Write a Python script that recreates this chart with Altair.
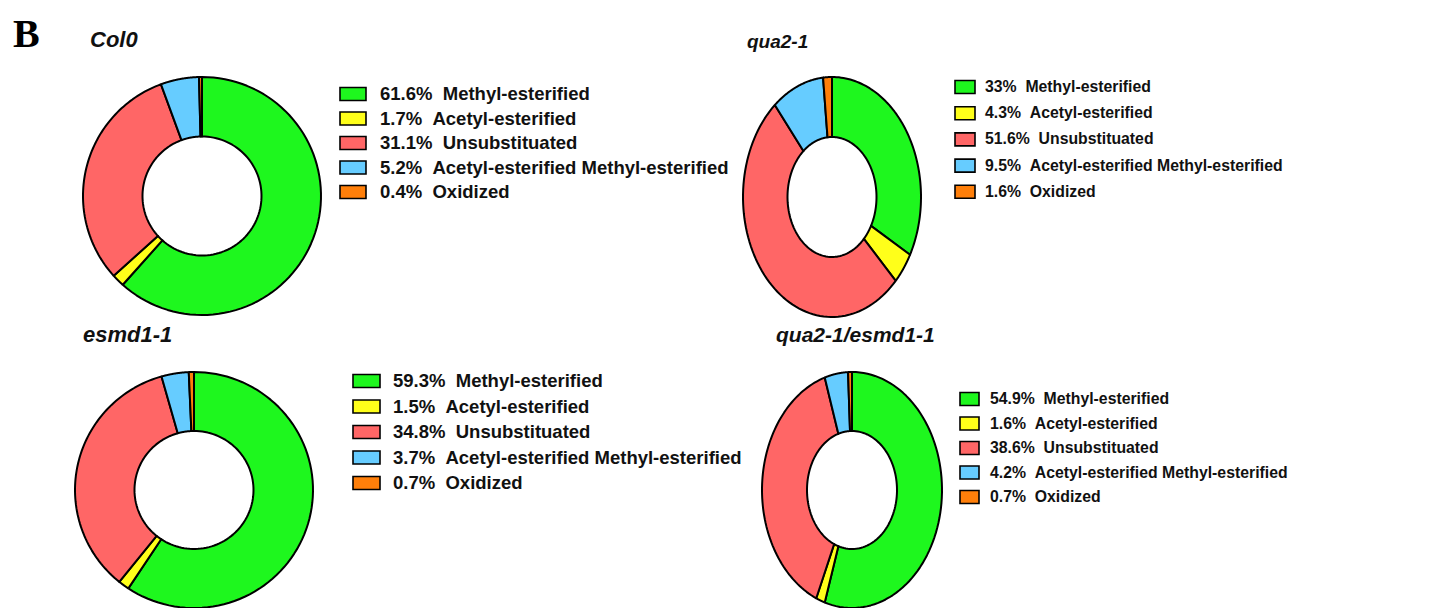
import altair as alt
import pandas as pd

# ---------------- data ----------------
panels = ["Col0", "qua2-1", "esmd1-1", "qua2-1/esmd1-1"]
categories = ["Methyl-esterified", "Acetyl-esterified", "Unsubstituated",
              "Acetyl-esterified Methyl-esterified", "Oxidized"]
col0_vals = [61.6, 1.7, 31.1, 5.2, 0.4]
qua2_vals = [33, 4.3, 51.6, 9.5, 1.6]
esmd1_vals = [59.3, 1.5, 34.8, 3.7, 0.7]
double_vals = [54.9, 1.6, 38.6, 4.2, 0.7]
panel_values = [col0_vals, qua2_vals, esmd1_vals, double_vals]

colors = ["#1EF71E", "#FFFF1A", "#FF6666", "#66CCFF", "#FF7F0A"]

# ---------------- layout (page pixel coordinates) ----------------
layout = {
    "Col0":           dict(cx=202, cy=196, rx=119, ry=119, sx0=340, sx1=366, ly0=94,  ldy=24.5, tx=380, lfs=18.5, ttx=90,  tty=47,  tfs=22),
    "qua2-1":         dict(cx=832, cy=197, rx=89,  ry=120, sx0=955, sx1=975, ly0=87,  ldy=26.2, tx=985, lfs=15.8, ttx=747, tty=48,  tfs=19),
    "esmd1-1":        dict(cx=194, cy=490, rx=119, ry=118, sx0=353, sx1=380, ly0=381, ldy=25.5, tx=393, lfs=18.5, ttx=83,  tty=342, tfs=22),
    "qua2-1/esmd1-1": dict(cx=852, cy=490, rx=90,  ry=118, sx0=960, sx1=979, ly0=399, ldy=24.5, tx=990, lfs=15.8, ttx=776, tty=342, tfs=21),
}
N = 80          # points per arc edge
INNER = 0.5     # inner radius ratio
W, H = 1416, 600

rows = []
for p, vals in zip(panels, panel_values):
    for i, (c, v) in enumerate(zip(categories, vals)):
        r = dict(panel=p, cat=c, idx=i, value=v)
        r.update(layout[p])
        rows.append(r)
df = pd.DataFrame(rows)

title_df = pd.DataFrame([dict(panel=p, **layout[p]) for p in panels])

xs = alt.Scale(domain=[8, 8 + W], range=[0, W])
ys = alt.Scale(domain=[8, 8 + H], range=[0, H])
fill_scale = alt.Scale(domain=categories, range=colors)

base = alt.Chart(df)

donut = base.transform_window(
    cum="sum(value)", groupby=["panel"], sort=[{"field": "idx"}], frame=[None, 0]
).transform_joinaggregate(
    total="sum(value)", groupby=["panel"]
).transform_calculate(
    a0="2*PI*(datum.cum - datum.value)/datum.total",
    a1="2*PI*datum.cum/datum.total",
    pts=f"sequence(0, {2 * N + 3})",
).transform_flatten(
    ["pts"], as_=["k"]
).transform_calculate(
    ang=(f"datum.k <= {N} ? datum.a0 + (datum.a1-datum.a0)*datum.k/{N} : "
         f"(datum.k <= {2 * N + 1} ? datum.a1 - (datum.a1-datum.a0)*(datum.k-{N + 1})/{N} : datum.a0)"),
    rf=f"(datum.k <= {N} || datum.k == {2 * N + 2}) ? 1 : {INNER}",
).transform_calculate(
    px="datum.cx + datum.rx*datum.rf*sin(datum.ang)",
    py="datum.cy - datum.ry*datum.rf*cos(datum.ang)",
).mark_line(
    stroke="black", strokeWidth=2, strokeJoin="round", interpolate="linear"
).encode(
    x=alt.X("px:Q", scale=xs, axis=None),
    y=alt.Y("py:Q", scale=ys, axis=None),
    fill=alt.Fill("cat:N", scale=fill_scale, legend=None),
    detail="panel:N",
    order=alt.Order("k:Q"),
)

leg_rect = base.transform_calculate(
    y0="datum.ly0 + datum.idx*datum.ldy - 6.5",
    y1="datum.ly0 + datum.idx*datum.ldy + 6.5",
).mark_rect(stroke="black", strokeWidth=1.6).encode(
    x=alt.X("sx0:Q", scale=xs, axis=None),
    x2="sx1:Q",
    y=alt.Y("y0:Q", scale=ys, axis=None),
    y2="y1:Q",
    fill=alt.Fill("cat:N", scale=fill_scale, legend=None),
)

leg_text = base.transform_calculate(
    ly="datum.ly0 + datum.idx*datum.ldy",
    label="datum.value + '%\u00a0\u00a0' + datum.cat",
).mark_text(
    align="left", baseline="middle", font="Liberation Sans",
    fontWeight="bold", color="#111111",
).encode(
    x=alt.X("tx:Q", scale=xs, axis=None),
    y=alt.Y("ly:Q", scale=ys, axis=None),
    size=alt.Size("lfs:Q", scale=None, legend=None),
    text="label:N",
)

titles = alt.Chart(title_df).mark_text(
    align="left", baseline="alphabetic", font="Liberation Sans",
    fontWeight="bold", fontStyle="italic", color="#111111",
).encode(
    x=alt.X("ttx:Q", scale=xs, axis=None),
    y=alt.Y("tty:Q", scale=ys, axis=None),
    size=alt.Size("tfs:Q", scale=None, legend=None),
    text="panel:N",
)

panel_letter = alt.Chart(pd.DataFrame({"t": ["B"], "x": [13], "y": [47]})).mark_text(
    align="left", baseline="alphabetic", font="Liberation Serif", fontSize=40,
    fontWeight="bold", color="black",
).encode(
    x=alt.X("x:Q", scale=xs, axis=None),
    y=alt.Y("y:Q", scale=ys, axis=None),
    text="t:N",
)

chart = alt.layer(
    donut, leg_rect, leg_text, titles, panel_letter,
).properties(
    width=W, height=H, padding=0, autosize=alt.AutoSizeParams(type="none"),
).configure_view(stroke=None)

chart.save("out.html", embed_options={"renderer": "svg", "actions": False})
